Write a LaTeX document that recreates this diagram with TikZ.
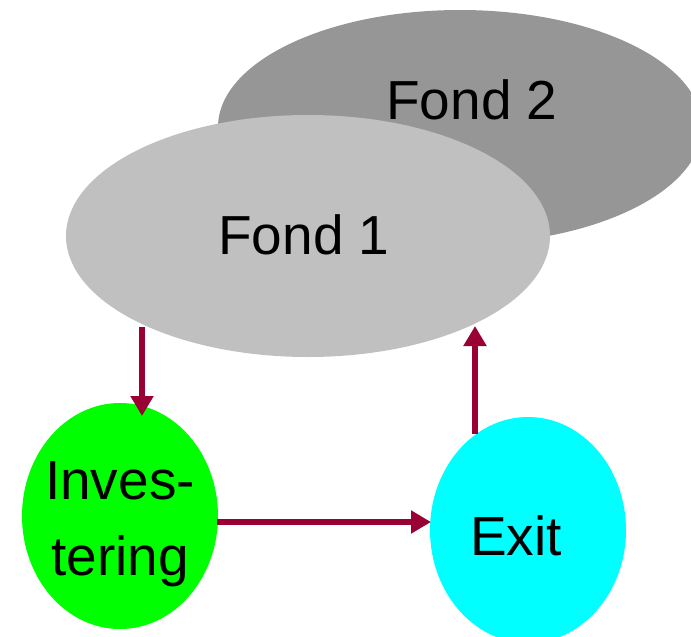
\documentclass[tikz,border=0pt]{standalone}
\usepackage{fontspec}
\setmainfont{Liberation Sans}
\usetikzlibrary{shapes.geometric,arrows.meta}
\definecolor{fondtwo}{HTML}{969696}
\definecolor{fondone}{HTML}{C0C0C0}
\definecolor{invgreen}{HTML}{00FF00}
\definecolor{exitcyan}{HTML}{00FFFF}
\definecolor{arrowred}{HTML}{990033}
\tikzset{
  blob/.style={ellipse, draw=none, inner sep=0pt},
  lbl/.style={font=\fontsize{55}{76}\selectfont, align=center, inner sep=0pt},
  arr/.style={draw=arrowred, line width=6pt, -{Triangle[width=22pt,length=20pt]}}
}
\begin{document}
\begin{tikzpicture}[x=1pt,y=-1pt]
\useasboundingbox (0,0) rectangle (691,637);
\clip (0,0) rectangle (691,637);
\node[blob, fill=fondtwo, minimum width=484pt, minimum height=234pt] (f2) at (460,127) {};
\node[lbl] (f2t) at (472,100) {Fond 2};
\node[blob, fill=fondone, minimum width=484pt, minimum height=242pt] (f1) at (308,236) {};
\node[lbl] (f1t) at (304,235) {Fond 1};
\node[blob, fill=invgreen, minimum width=196pt, minimum height=226pt] (inv) at (120,516) {};
\node[lbl] (invt) at (120,524) {Inves-\\tering};
\node[blob, fill=exitcyan, minimum width=196pt, minimum height=226pt] (exit) at (528,530) {};
\node[lbl] (exitt) at (516,536) {Exit};
\coordinate (a1s) at (142,327);
\coordinate (a1e) at (142,416);
\coordinate (a2s) at (217,522);
\coordinate (a2e) at (431,522);
\coordinate (a3s) at (475,434);
\coordinate (a3e) at (475,326);
\draw[arr] (a1s) -- (a1e);
\draw[arr] (a2s) -- (a2e);
\draw[arr] (a3s) -- (a3e);
\end{tikzpicture}
\end{document}
